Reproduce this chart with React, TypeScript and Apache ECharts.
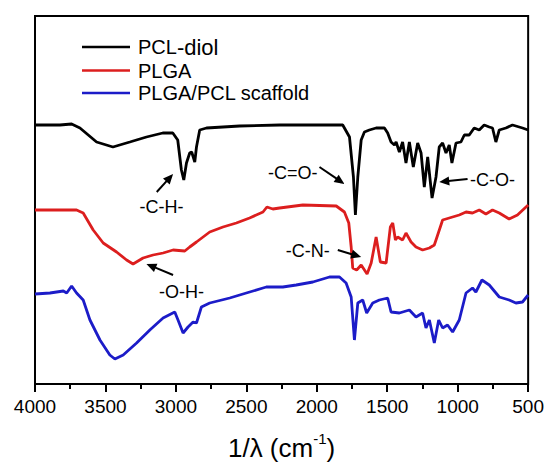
import React, { useEffect, useRef } from "react";
import * as echarts from "echarts";

// Wavenumber (cm^-1) and relative transmittance (arbitrary units, offset per trace)
const pclDiol: [number, number][] = [
  [4000, 259], [3823, 259], [3740, 260], [3681, 256], [3563, 242], [3447, 237], [3327, 242],
  [3209, 247], [3093, 251], [3022, 251], [2987, 244], [2961, 214], [2944, 204], [2925, 221],
  [2902, 231], [2888, 232], [2866, 222], [2854, 237], [2831, 254], [2783, 256], [2548, 258],
  [2264, 259], [1981, 259], [1816, 259], [1768, 247], [1740, 207], [1726, 169], [1709, 207],
  [1685, 244], [1662, 252], [1627, 254], [1579, 256], [1520, 256], [1497, 251], [1473, 242],
  [1449, 239], [1437, 242], [1414, 232], [1391, 242], [1367, 221], [1343, 242], [1315, 217],
  [1284, 241], [1260, 231], [1237, 197], [1213, 227], [1182, 186], [1154, 207], [1131, 237],
  [1107, 241], [1083, 231], [1060, 239], [1041, 221], [1012, 241], [977, 242], [953, 249],
  [918, 249], [883, 256], [847, 254], [812, 259], [776, 257], [753, 256], [729, 242],
  [705, 254], [658, 256], [611, 259], [540, 256], [500, 254],
];

const plga: [number, number][] = [
  [4000, 174], [3705, 174], [3658, 171], [3587, 154], [3516, 141], [3421, 132], [3350, 124],
  [3304, 120], [3233, 126], [3162, 129], [3091, 131], [3020, 134], [2937, 133], [2902, 137],
  [2854, 142], [2760, 152], [2666, 157], [2571, 161], [2477, 166], [2382, 172], [2354, 177],
  [2312, 175], [2264, 176], [2099, 179], [1862, 178], [1804, 172], [1773, 161], [1756, 137],
  [1745, 116], [1717, 114], [1685, 119], [1643, 110], [1614, 121], [1579, 147], [1549, 122],
  [1508, 121], [1478, 157], [1461, 161], [1442, 144], [1426, 147], [1391, 144], [1367, 151],
  [1331, 142], [1296, 137], [1249, 134], [1201, 136], [1166, 139], [1154, 144], [1107, 164],
  [1060, 166], [989, 169], [941, 172], [895, 171], [847, 174], [800, 170], [753, 174],
  [705, 171], [635, 165], [576, 169], [500, 179],
];

const scaffold: [number, number][] = [
  [4000, 90], [3894, 91], [3799, 93], [3775, 91], [3740, 98], [3705, 91], [3658, 84],
  [3610, 64], [3539, 44], [3469, 29], [3433, 25], [3374, 29], [3279, 41], [3185, 54],
  [3091, 66], [3008, 72], [2985, 64], [2949, 51], [2914, 57], [2878, 62], [2854, 61],
  [2819, 77], [2760, 81], [2618, 86], [2500, 91], [2382, 96], [2358, 97], [2241, 97],
  [2146, 99], [2028, 102], [1910, 107], [1839, 107], [1792, 101], [1756, 87], [1733, 44],
  [1709, 81], [1674, 84], [1646, 71], [1603, 81], [1556, 84], [1497, 86], [1473, 72],
  [1414, 71], [1343, 74], [1296, 67], [1249, 71], [1225, 56], [1201, 64], [1166, 41],
  [1135, 64], [1107, 56], [1072, 59], [1036, 52], [989, 64], [941, 91], [895, 96],
  [871, 92], [828, 104], [776, 99], [705, 87], [635, 84], [587, 81], [540, 82], [500, 89],
];

const seriesNames = ["PCL-diol", "PLGA", "PLGA/PCL scaffold"];
const xTickValues = [4000, 3500, 3000, 2500, 2000, 1500, 1000, 500];

// Peak annotations: label position, arrow tail, arrow tip (data coordinates)
const annotations = [
  { text: "-C-H-", at: [3102, 177], from: [3136, 192], to: [3020, 210] },
  { text: "-C=O-", at: [2170, 211], from: [1981, 217], to: [1804, 200] },
  { text: "-C-O-", at: [753, 204], from: [930, 205], to: [1131, 202] },
  { text: "-C-N-", at: [2064, 133], from: [1851, 134], to: [1685, 127] },
  { text: "-O-H-", at: [2961, 92], from: [3020, 109], to: [3209, 120] },
];

const FONT = "'Liberation Sans', Arial, Helvetica, sans-serif";
const colors = ["#000000", "#dc1e1e", "#1c1cc8"];

export default function App() {
  const ref = useRef<HTMLDivElement>(null);

  useEffect(() => {
    document.body.style.margin = "0";
    if (!ref.current) return;
    const chart = echarts.init(ref.current, undefined, { renderer: "svg" });
    const datasets = [pclDiol, plga, scaffold];

    chart.setOption({
      animation: false,
      backgroundColor: "#ffffff",
      textStyle: { fontFamily: FONT, color: "#000" },
      grid: {
        left: 35,
        right: 18,
        top: 16,
        bottom: 84,
        show: true,
        borderColor: "#000",
        borderWidth: 2,
        backgroundColor: "transparent",
      },
      legend: {
        orient: "vertical",
        left: 77,
        top: 31,
        itemWidth: 48,
        itemHeight: 20,
        itemGap: 2.5,
        icon: "path://M0,8.75 L48,8.75 L48,11.25 L0,11.25 Z",
        data: seriesNames,
        formatter: (name: string) => (name === "PCL-diol" ? "{a|PCL}{b|-diol}" : name),
        textStyle: {
          fontSize: 20,
          color: "#000",
          fontFamily: FONT,
          padding: [0, 0, 0, 3],
          rich: {
            a: { fontSize: 20, fontFamily: FONT, color: "#000" },
            b: { fontSize: 22, fontFamily: FONT, color: "#000" },
          },
        },
      },
      xAxis: {
        type: "value",
        min: 500,
        max: 4000,
        interval: 500,
        inverse: true,
        axisLine: { show: true, lineStyle: { color: "#000", width: 2 } },
        axisTick: { show: true, inside: false, length: 8, lineStyle: { color: "#000", width: 2 } },
        minorTick: { show: true, splitNumber: 2, length: 5, lineStyle: { color: "#000", width: 2 } },
        splitLine: { show: false },
        axisLabel: {
          fontSize: 19,
          color: "#000",
          fontFamily: FONT,
          margin: 13,
          formatter: (v: number) => (xTickValues.includes(v) ? String(v) : ""),
        },
        name: "{a|1/λ (cm}{s|-1}{a|)}",
        nameLocation: "middle",
        nameGap: 47,
        nameTextStyle: {
          rich: {
            a: { fontSize: 26, fontFamily: FONT, color: "#000", lineHeight: 30, verticalAlign: "bottom" },
            s: { fontSize: 15, fontFamily: FONT, color: "#000", lineHeight: 30, verticalAlign: "top" },
          },
        },
      },
      yAxis: {
        type: "value",
        min: 0,
        max: 368,
        show: true,
        axisLine: { show: false },
        axisTick: { show: false },
        axisLabel: { show: false },
        splitLine: { show: false },
      },
      series: datasets.map((d, i) => ({
        name: seriesNames[i],
        type: "line",
        data: d,
        symbol: "none",
        smooth: false,
        lineStyle: { color: colors[i], width: 2.8 },
        itemStyle: { color: colors[i] },
        z: 3 - i,
      })),
    });

    const toPx = (p: number[]) =>
      chart.convertToPixel({ xAxisIndex: 0, yAxisIndex: 0 }, p) as number[];

    const graphics: any[] = [];
    annotations.forEach((a) => {
      const c = toPx(a.at);
      graphics.push({
        type: "text",
        x: c[0],
        y: c[1],
        style: {
          text: a.text,
          fontSize: 18,
          fontFamily: FONT,
          fill: "#000",
          align: "center",
          verticalAlign: "middle",
        },
        z: 10,
      });
      const s = toPx(a.from);
      const t = toPx(a.to);
      const dx = t[0] - s[0];
      const dy = t[1] - s[1];
      const len = Math.sqrt(dx * dx + dy * dy);
      const ux = dx / len;
      const uy = dy / len;
      const headL = 10;
      const headW = 4.5;
      const bx = t[0] - ux * headL;
      const by = t[1] - uy * headL;
      graphics.push({
        type: "line",
        shape: { x1: s[0], y1: s[1], x2: bx + ux * 1, y2: by + uy * 1 },
        style: { stroke: "#000", lineWidth: 2 },
        z: 10,
      });
      graphics.push({
        type: "polygon",
        shape: {
          points: [
            [t[0], t[1]],
            [bx - uy * headW, by + ux * headW],
            [bx + uy * headW, by - ux * headW],
          ],
        },
        style: { fill: "#000" },
        z: 10,
      });
    });
    chart.setOption({ graphic: graphics });

    return () => chart.dispose();
  }, []);

  return <div ref={ref} style={{ width: 547, height: 468 }} />;
}
